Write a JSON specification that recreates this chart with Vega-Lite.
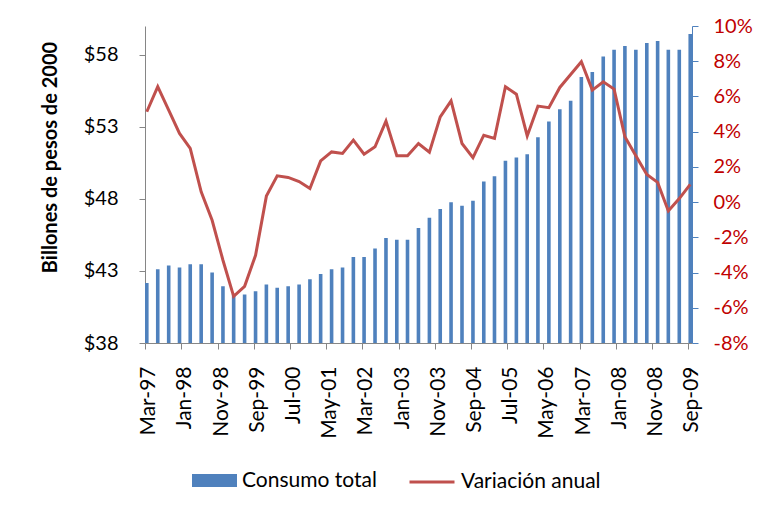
{
  "$schema": "https://vega.github.io/schema/vega-lite/v6.json",
  "width": 547,
  "height": 317,
  "autosize": {"type": "none"},
  "padding": {"left": 145, "top": 26, "right": 65, "bottom": 171},
  "background": "white",
  "config": {"view": {"stroke": null}, "font": "Lato"},
  "data": {"values": [
    {"d": "1997-03-01T00:00:00", "c": 42.17, "v": 5.13},
    {"d": "1997-06-01T00:00:00", "c": 43.12, "v": 6.56},
    {"d": "1997-09-01T00:00:00", "c": 43.38, "v": 5.22},
    {"d": "1997-12-01T00:00:00", "c": 43.24, "v": 3.90},
    {"d": "1998-03-01T00:00:00", "c": 43.47, "v": 3.05},
    {"d": "1998-06-01T00:00:00", "c": 43.47, "v": 0.58},
    {"d": "1998-09-01T00:00:00", "c": 42.90, "v": -1.03},
    {"d": "1998-12-01T00:00:00", "c": 41.94, "v": -3.30},
    {"d": "1999-03-01T00:00:00", "c": 41.39, "v": -5.35},
    {"d": "1999-06-01T00:00:00", "c": 41.37, "v": -4.78},
    {"d": "1999-09-01T00:00:00", "c": 41.60, "v": -3.02},
    {"d": "1999-12-01T00:00:00", "c": 42.06, "v": 0.34},
    {"d": "2000-03-01T00:00:00", "c": 41.83, "v": 1.49},
    {"d": "2000-06-01T00:00:00", "c": 41.94, "v": 1.40},
    {"d": "2000-09-01T00:00:00", "c": 42.06, "v": 1.17},
    {"d": "2000-12-01T00:00:00", "c": 42.43, "v": 0.77},
    {"d": "2001-03-01T00:00:00", "c": 42.78, "v": 2.34},
    {"d": "2001-06-01T00:00:00", "c": 43.12, "v": 2.85},
    {"d": "2001-09-01T00:00:00", "c": 43.24, "v": 2.76},
    {"d": "2001-12-01T00:00:00", "c": 43.96, "v": 3.52},
    {"d": "2002-03-01T00:00:00", "c": 43.96, "v": 2.72},
    {"d": "2002-06-01T00:00:00", "c": 44.56, "v": 3.14},
    {"d": "2002-09-01T00:00:00", "c": 45.28, "v": 4.60},
    {"d": "2002-12-01T00:00:00", "c": 45.16, "v": 2.63},
    {"d": "2003-03-01T00:00:00", "c": 45.16, "v": 2.63},
    {"d": "2003-06-01T00:00:00", "c": 45.98, "v": 3.33},
    {"d": "2003-09-01T00:00:00", "c": 46.69, "v": 2.84},
    {"d": "2003-12-01T00:00:00", "c": 47.30, "v": 4.84},
    {"d": "2004-03-01T00:00:00", "c": 47.76, "v": 5.75},
    {"d": "2004-06-01T00:00:00", "c": 47.53, "v": 3.33},
    {"d": "2004-09-01T00:00:00", "c": 47.87, "v": 2.53},
    {"d": "2004-12-01T00:00:00", "c": 49.20, "v": 3.80},
    {"d": "2005-03-01T00:00:00", "c": 49.57, "v": 3.62},
    {"d": "2005-06-01T00:00:00", "c": 50.64, "v": 6.55},
    {"d": "2005-09-01T00:00:00", "c": 50.87, "v": 6.13},
    {"d": "2005-12-01T00:00:00", "c": 51.10, "v": 3.76},
    {"d": "2006-03-01T00:00:00", "c": 52.28, "v": 5.45},
    {"d": "2006-06-01T00:00:00", "c": 53.37, "v": 5.36},
    {"d": "2006-09-01T00:00:00", "c": 54.23, "v": 6.51},
    {"d": "2006-12-01T00:00:00", "c": 54.81, "v": 7.25},
    {"d": "2007-03-01T00:00:00", "c": 56.46, "v": 7.97},
    {"d": "2007-06-01T00:00:00", "c": 56.80, "v": 6.36},
    {"d": "2007-09-01T00:00:00", "c": 57.89, "v": 6.83},
    {"d": "2007-12-01T00:00:00", "c": 58.35, "v": 6.42},
    {"d": "2008-03-01T00:00:00", "c": 58.61, "v": 3.71},
    {"d": "2008-06-01T00:00:00", "c": 58.35, "v": 2.63},
    {"d": "2008-09-01T00:00:00", "c": 58.82, "v": 1.57},
    {"d": "2008-12-01T00:00:00", "c": 58.96, "v": 1.12},
    {"d": "2009-03-01T00:00:00", "c": 58.35, "v": -0.50},
    {"d": "2009-06-01T00:00:00", "c": 58.35, "v": 0.20},
    {"d": "2009-09-01T00:00:00", "c": 59.45, "v": 1.01}
  ]},
  "encoding": {
    "x": {
      "field": "d",
      "type": "temporal",
      "scale": {"domain": [{"year": 1997, "month": 3, "date": 1}, {"year": 2009, "month": 10, "date": 1}], "nice": false, "padding": 0},
      "axis": {
        "title": null,
        "values": [
          {"year": 1997, "month": 3, "date": 1}, {"year": 1998, "month": 1, "date": 1},
          {"year": 1998, "month": 11, "date": 1}, {"year": 1999, "month": 9, "date": 1},
          {"year": 2000, "month": 7, "date": 1}, {"year": 2001, "month": 5, "date": 1},
          {"year": 2002, "month": 3, "date": 1}, {"year": 2003, "month": 1, "date": 1},
          {"year": 2003, "month": 11, "date": 1}, {"year": 2004, "month": 9, "date": 1},
          {"year": 2005, "month": 7, "date": 1}, {"year": 2006, "month": 5, "date": 1},
          {"year": 2007, "month": 3, "date": 1}, {"year": 2008, "month": 1, "date": 1},
          {"year": 2008, "month": 11, "date": 1}, {"year": 2009, "month": 9, "date": 1}
        ],
        "format": "%b-%y",
        "labelAngle": 270,
        "labelAlign": "right",
        "labelBaseline": "middle",
        "labelFontSize": 21,
        "labelColor": "black",
        "labelPadding": 17,
        "labelOffset": 3.5,
        "labelOverlap": false,
        "labelFlush": false,
        "labelBound": false,
        "tickSize": 6,
        "tickColor": "#868686",
        "domainColor": "#868686",
        "grid": false
      }
    }
  },
  "layer": [
    {
      "mark": {"type": "bar", "width": 3.6, "xOffset": 1.8, "clip": true},
      "encoding": {
        "y": {
          "field": "c",
          "type": "quantitative",
          "scale": {"domain": [38, 60], "nice": false, "zero": false},
          "axis": {
            "title": "Billones de pesos de 2000",
            "titleFontSize": 20,
            "titleFontWeight": "bold",
            "titleColor": "black",
            "titleX": -95,
            "titleY": 131,
            "titleAngle": -90,
            "titleAlign": "center",
            "titleBaseline": "middle",
            "values": [38, 43, 48, 53, 58],
            "format": "$.0f",
            "labelFontSize": 20,
            "labelColor": "black",
            "labelPadding": 21,
            "tickSize": 6,
            "tickColor": "#868686",
            "domainColor": "#868686",
            "grid": false
          }
        },
        "fill": {
          "datum": "Consumo total",
          "scale": {"range": ["#4F81BD"]},
          "legend": {
            "title": null,
            "orient": "none",
            "legendX": 47,
            "legendY": 432,
            "symbolType": "M-1,-0.29H1V0.29H-1Z",
            "symbolSize": 2025,
            "symbolStrokeWidth": 0,
            "labelFontSize": 21,
            "labelColor": "black",
            "labelOffset": 5
          }
        }
      }
    },
    {
      "mark": {"type": "line", "xOffset": 1.8, "strokeWidth": 3},
      "encoding": {
        "y": {
          "field": "v",
          "type": "quantitative",
          "scale": {"domain": [-8, 10], "nice": false, "zero": false},
          "axis": {
            "orient": "right",
            "title": null,
            "values": [-8, -6, -4, -2, 0, 2, 4, 6, 8, 10],
            "labelExpr": "datum.value + '%'",
            "labelFontSize": 20,
            "labelColor": "#C00000",
            "labelPadding": 15,
            "tickSize": 6,
            "tickColor": "#4F81BD",
            "domainColor": "#4F81BD",
            "grid": false
          }
        },
        "stroke": {
          "datum": "Variación anual",
          "scale": {"range": ["#C0504D"]},
          "legend": {
            "title": null,
            "orient": "none",
            "legendX": 263,
            "legendY": 432,
            "symbolType": "stroke",
            "symbolSize": 2025,
            "symbolStrokeWidth": 3,
            "labelFontSize": 21,
            "labelColor": "black",
            "labelOffset": 5
          }
        }
      }
    }
  ],
  "resolve": {"scale": {"y": "independent"}}
}
